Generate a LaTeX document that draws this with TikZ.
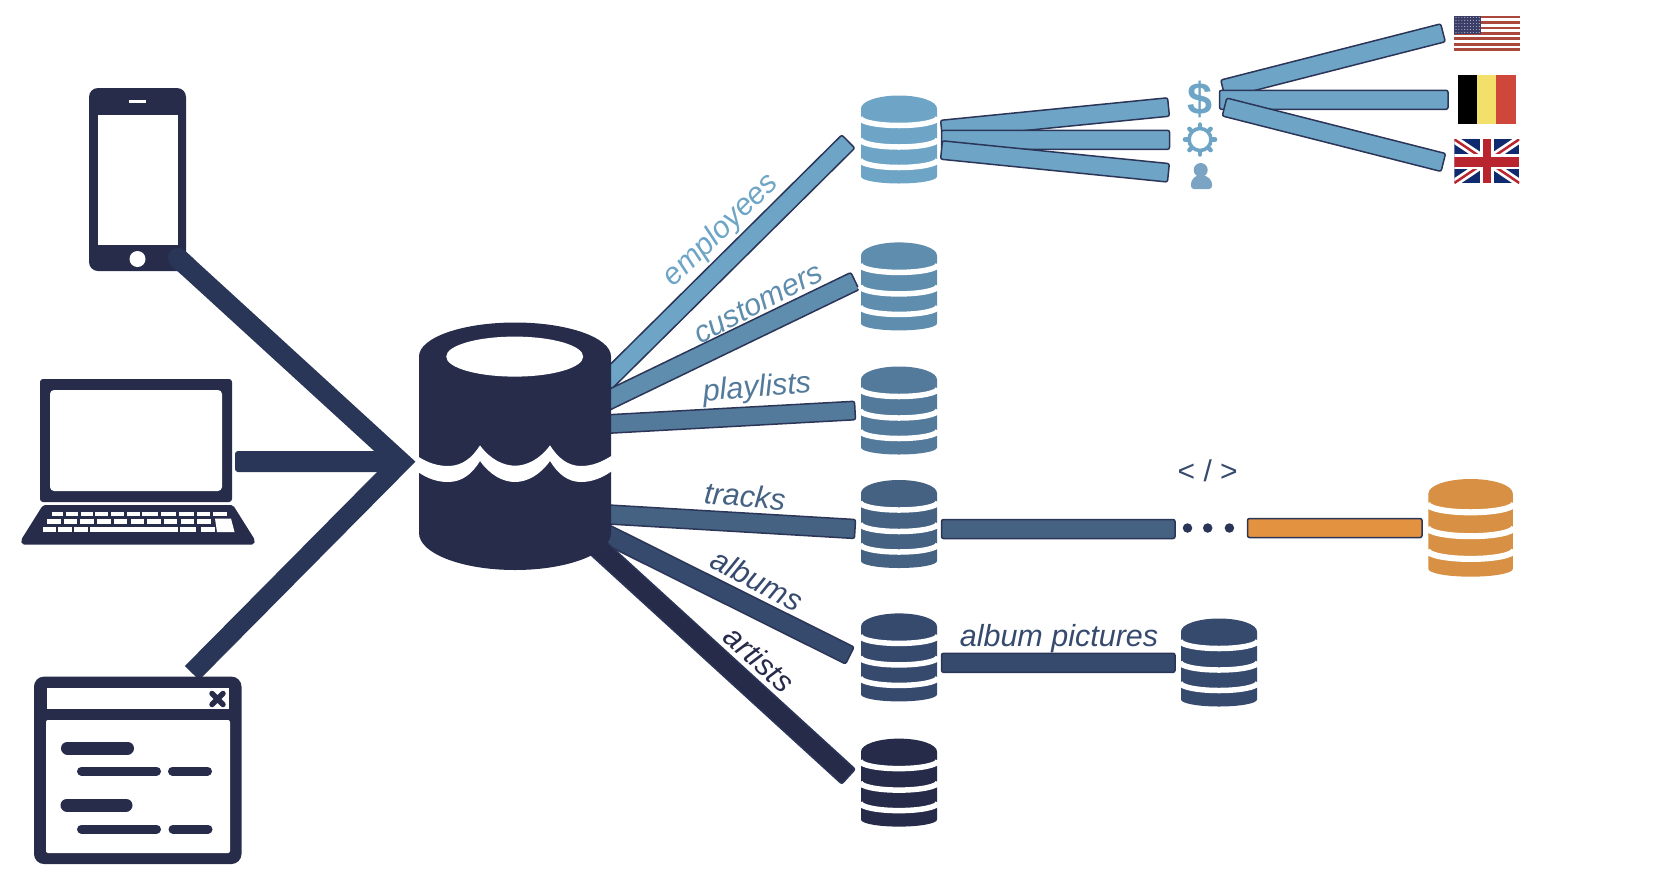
\documentclass[tikz,border=0pt]{standalone}
\usepackage{fontspec}
\setmainfont{Liberation Sans}
\usetikzlibrary{calc,shapes.geometric}
\definecolor{ink}{HTML}{272C4B}
\definecolor{yarm}{HTML}{2A3658}
\definecolor{edgec}{HTML}{2B3558}
\definecolor{cemp}{HTML}{6EA5C6}
\definecolor{ccus}{HTML}{5F8DAE}
\definecolor{cpla}{HTML}{547A9B}
\definecolor{ctra}{HTML}{456282}
\definecolor{calb}{HTML}{364A6E}
\definecolor{cart}{HTML}{272B4A}
\definecolor{corg}{HTML}{D89044}
\definecolor{cbar}{HTML}{E39340}
\definecolor{cper}{HTML}{7AA3C4}
\definecolor{usred}{HTML}{A9483B}
\definecolor{usblue}{HTML}{3A3D68}
\definecolor{beyel}{HTML}{F2E06A}
\definecolor{bered}{HTML}{CF473A}
\definecolor{ukblue}{HTML}{0F2A6E}
\definecolor{ukred}{HTML}{B9252F}
\newcommand{\rbar}[4]{%
  \draw[barline,fill=#3] ($(#1)!#4!90:(#2)$) -- ($(#1)!#4!-90:(#2)$) -- ($(#2)!#4!90:(#1)$) -- ($(#2)!#4!-90:(#1)$) -- cycle;}
\newcommand{\dbicon}[5]{%
  \begin{scope}[shift={(#2,#3)},scale=#4]
  \coordinate (#1) at (0,44);
  \fill[#5] (-38,13) .. controls (-38,5.8) and (-21,0) .. (0,0) .. controls (21,0) and (38,5.8) .. (38,13) -- (38,81) .. controls (38,84.9) and (21,88) .. (0,88) .. controls (-21,88) and (-38,84.9) .. (-38,81) -- cycle;
  \foreach \c in {30,51.5,72}{
    \draw[white,line width=5.5*#4] (-39,\c-8) .. controls (-39,\c-3.5) and (-21.5,\c) .. (0,\c) .. controls (21.5,\c) and (39,\c-3.5) .. (39,\c-8);}
  \end{scope}}
\tikzset{
  x=1pt,y=-1pt,
  barline/.style={draw=edgec,line width=1.5pt,rounded corners=2pt},
  lab/.style={font=\fontsize{30.5}{31}\selectfont\itshape,inner sep=0pt},
  yline/.style={draw=yarm,line width=20pt,line join=miter,miter limit=10},
  winbar/.style={draw=ink,line cap=round},
}
\begin{document}
\begin{tikzpicture}
\useasboundingbox (0,0) rectangle (1664,884);
% connector ends
\coordinate (phoneEnd) at (178,258);
\coordinate (yTip) at (401,462);
\coordinate (winEnd) at (192,673);
\coordinate (lapEnd) at (235,451);
\coordinate (lapTip) at (395,472);
\coordinate (mEmp) at (590,397.5);
\coordinate (eEmp) at (848.3,141.5);
\coordinate (mCus) at (590,409);
\coordinate (eCus) at (855,281);
\coordinate (mPla) at (590,425);
\coordinate (ePla) at (855,410.5);
\coordinate (mTra) at (590,513.4);
\coordinate (eTra) at (855,529);
\coordinate (mAlb) at (590,526);
\coordinate (eAlb) at (849.8,655.5);
\coordinate (mArt) at (585,536);
\coordinate (eArt) at (848.5,776.6);
% client connectors
\draw[yline] (phoneEnd) -- (yTip) -- (winEnd);
\fill[yarm,rounded corners=3pt] (lapEnd) rectangle (lapTip);
% phone
\fill[ink,rounded corners=9pt] (89,88) rectangle (186,271);
\fill[white] (98,114.5) rectangle (178,245);
\fill[white] (129,100) rectangle (146,102.5);
\node[circle,fill=white,inner sep=0pt,minimum size=16pt] (homeBtn) at (137.5,259) {};
\draw[yarm,line width=20pt,line cap=round] (phoneEnd) -- ($(phoneEnd)!12pt!(yTip)$);
% laptop
\fill[ink,rounded corners=3pt] (40,379) rectangle (232,502);
\fill[white,rounded corners=4pt] (50,390) rectangle (222,491);
\fill[ink,rounded corners=2pt] (43,505) -- (233,505) -- (255,540) -- (254,544.6) -- (22,544.6) -- (21,540) -- cycle;
\foreach \a/\b in {51.7/63.3,65.7/78.3,80.7/93.3,95/108.3,110.7/124,126.7/140,142.3/158.3,160.7/175.7,179/194,196.7/210,212.7/226.7}{
  \fill[white] (\a,511.7) rectangle (\b,516);}
\foreach \i in {0,...,9}{
  \fill[white] ({47+16.7*\i},518.5) rectangle ({60.5+16.7*\i},524);}
\fill[white] (215,518.5) -- (231,518.5) -- (234.5,532) -- (217,532) -- cycle;
\foreach \a/\b in {42.5/55.7,58.4/71.6,74.3/87.5,90/178,180/196,200.6/215}{
  \fill[white] (\a,527) rectangle (\b,532);}
% window
\fill[ink,rounded corners=10pt] (34,676.6) rectangle (241.5,864);
\fill[white] (47,688) rectangle (229,709);
\fill[white,rounded corners=2pt] (46,720) rectangle (230,853);
\draw[ink,line width=5.5pt,line cap=round] (212,693.5) -- (223,704.5) (212,704.5) -- (223,693.5);
\draw[winbar,line width=13pt] (67.5,748) -- (127.5,748);
\draw[winbar,line width=13pt] (67,805) -- (126,805);
\draw[winbar,line width=9pt] (81.5,771) -- (156.5,771);
\draw[winbar,line width=9pt] (172.5,771) -- (207.5,771);
\draw[winbar,line width=9pt] (81.5,829) -- (156.5,829);
\draw[winbar,line width=9pt] (173,829) -- (208,829);
% bars out of the lake
\rbar{mEmp}{eEmp}{cemp}{9.25pt}
\rbar{mCus}{eCus}{ccus}{9.5pt}
\rbar{mPla}{ePla}{cpla}{9.25pt}
\rbar{mTra}{eTra}{ctra}{9.5pt}
\rbar{mAlb}{eAlb}{calb}{9.5pt}
\rbar{mArt}{eArt}{cart}{10pt}
% lake
\fill[ink] (419,356.5) .. controls (419,337.7) and (462,322.5) .. (515,322.5) .. controls (568,322.5) and (611,337.7) .. (611,356.5) -- (611,533) .. controls (611,553.4) and (568,570) .. (515,570) .. controls (462,570) and (419,553.4) .. (419,533) -- cycle;
\node[ellipse,fill=white,minimum width=137pt,minimum height=40pt,inner sep=0pt] (lakeHole) at (514.7,356.6) {};
\fill[white] (418,456.5) .. controls (428,463) and (438,466) .. (448,466) .. controls (462,466) and (472,458) .. (480,445.4) .. controls (490,459) and (503,465.7) .. (515,465.7) .. controls (527,465.7) and (540,459) .. (550,445.4) .. controls (558,458) and (568,466) .. (581,466) .. controls (592,466) and (602,462) .. (612,455.5)
 -- (612,471) .. controls (602,478) and (592,482) .. (581,482) .. controls (568,482) and (558,474) .. (550,461) .. controls (540,475) and (527,482) .. (515,482) .. controls (503,482) and (490,475) .. (480,461) .. controls (472,474) and (462,482) .. (448,482) .. controls (438,482) and (428,479) .. (418,472) -- cycle;
% table icons
\dbicon{dbEmp}{899}{95.5}{1}{cemp}
\dbicon{dbCus}{899}{242.4}{1}{ccus}
\dbicon{dbPla}{899}{366.5}{1}{cpla}
\dbicon{dbTra}{899}{480}{1}{ctra}
\dbicon{dbAlb}{899}{613.4}{1}{calb}
\dbicon{dbArt}{899}{738.6}{1}{cart}
\dbicon{dbPic}{1219}{618.5}{1}{calb}
\dbicon{dbOrg}{1470.6}{479}{1.11}{corg}
% fan 1
\coordinate (f1a) at (941.5,129.5); \coordinate (f1b) at (941.5,139.8); \coordinate (f1c) at (941.5,150);
\coordinate (f1A) at (1168.5,107); \coordinate (f1B) at (1169.5,139.8); \coordinate (f1C) at (1168.4,172.8);
\rbar{f1a}{f1A}{cemp}{9.25pt}
\rbar{f1b}{f1B}{cemp}{9.5pt}
\rbar{f1c}{f1C}{cemp}{9.25pt}
% fan 2
\coordinate (f2a) at (1223,89); \coordinate (f2b) at (1219.5,99.8); \coordinate (f2c) at (1224.5,107);
\coordinate (f2A) at (1443,32.8); \coordinate (f2B) at (1448,99.8); \coordinate (f2C) at (1443.3,162.5);
\rbar{f2a}{f2A}{cemp}{9.25pt}
\rbar{f2b}{f2B}{cemp}{9.5pt}
\rbar{f2c}{f2C}{cemp}{9.25pt}
% horizontal bars
\coordinate (tr1) at (941.5,529); \coordinate (tr2) at (1175,529);
\coordinate (or1) at (1247.5,528); \coordinate (or2) at (1422,528);
\coordinate (pc1) at (941.5,662.8); \coordinate (pc2) at (1175,662.8);
\rbar{tr1}{tr2}{ctra}{9.5pt}
\rbar{or1}{or2}{cbar}{9.5pt}
\rbar{pc1}{pc2}{calb}{9.5pt}
\foreach \n/\x in {dotA/1187.5,dotB/1207.7,dotC/1229.4}{
  \node[circle,fill=edgec,inner sep=0pt,minimum size=9.5pt] (\n) at (\x,528) {};}
% gear, dollar, person
\node[inner sep=0pt,text=cemp,font=\fontsize{45}{45}\selectfont\bfseries] (dollar) at (1200,99) {\$};
\coordinate (gear) at (1200,139.5);
\draw[cemp,line width=3.6pt] (gear) circle (11);
\foreach \t in {0,45,...,315}{
  \draw[cemp,line width=4.5pt,line cap=round] ($(gear)+(\t:12)$) -- ($(gear)+(\t:15)$);}
\coordinate (head) at (1200.7,170);
\fill[cper] (head) circle (7);
\fill[cper,rounded corners=3pt] (1191,189) -- (1191,181) -- (1196,175.5) -- (1206,175.5) -- (1212,181) -- (1212,189) -- cycle;
% US flag
\fill[white] (1454,15.7) rectangle (1520,51);
\foreach \i in {0,...,6}{
  \fill[usred] (1454,{15.7+5.43*\i}) rectangle (1520,{15.7+5.43*\i+2.7});}
\fill[usblue] (1454,15.7) rectangle (1481,34.3);
\foreach \i in {0,...,8}{\foreach \j in {0,...,5}{
  \fill[white!60!usblue] ({1456+2.9*\i},{17.5+3*\j}) circle (0.55);}}
% Belgian flag
\fill[black] (1458,75) rectangle (1477.2,124.3);
\fill[beyel] (1477.2,75) rectangle (1496.4,124.3);
\fill[bered] (1496.4,75) rectangle (1515.7,124.3);
% UK flag
\begin{scope}
\clip (1454.3,139.3) rectangle (1519.3,183);
\fill[ukblue] (1454.3,139.3) rectangle (1519.3,183);
\draw[white,line width=8pt] (1454.3,139.3) -- (1519.3,183) (1454.3,183) -- (1519.3,139.3);
\draw[ukred,line width=2.5pt] (1454.3,139.3) -- (1519.3,183) (1454.3,183) -- (1519.3,139.3);
\fill[white] (1480,139.3) rectangle (1494,183);
\fill[white] (1454.3,154) rectangle (1519.3,169);
\fill[ukred] (1482.7,139.3) rectangle (1491,183);
\fill[ukred] (1454.3,157) rectangle (1519.3,166.5);
\end{scope}
% labels
\node[lab,text=cemp,rotate=44.5] (lEmp) at (721,230.5) {employees};
\node[lab,text=ccus,rotate=27.5] (lCus) at (758,303) {customers};
\node[lab,text=cpla,rotate=4.5] (lPla) at (757,389) {playlists};
\node[lab,text=ctra,rotate=-5] (lTra) at (745,496) {tracks};
\node[lab,text=calb,rotate=-28] (lAlb) at (757.5,579.5) {albums};
\node[lab,text=cart,rotate=-42] (lArt) at (759.5,659) {artists};
\node[lab,text=calb] (lPic) at (1059,639) {album pictures};
\node[inner sep=0pt,text=calb,font=\fontsize{30}{30}\selectfont] (lCode) at (1207.7,471) {< / >};
\end{tikzpicture}
\end{document}
